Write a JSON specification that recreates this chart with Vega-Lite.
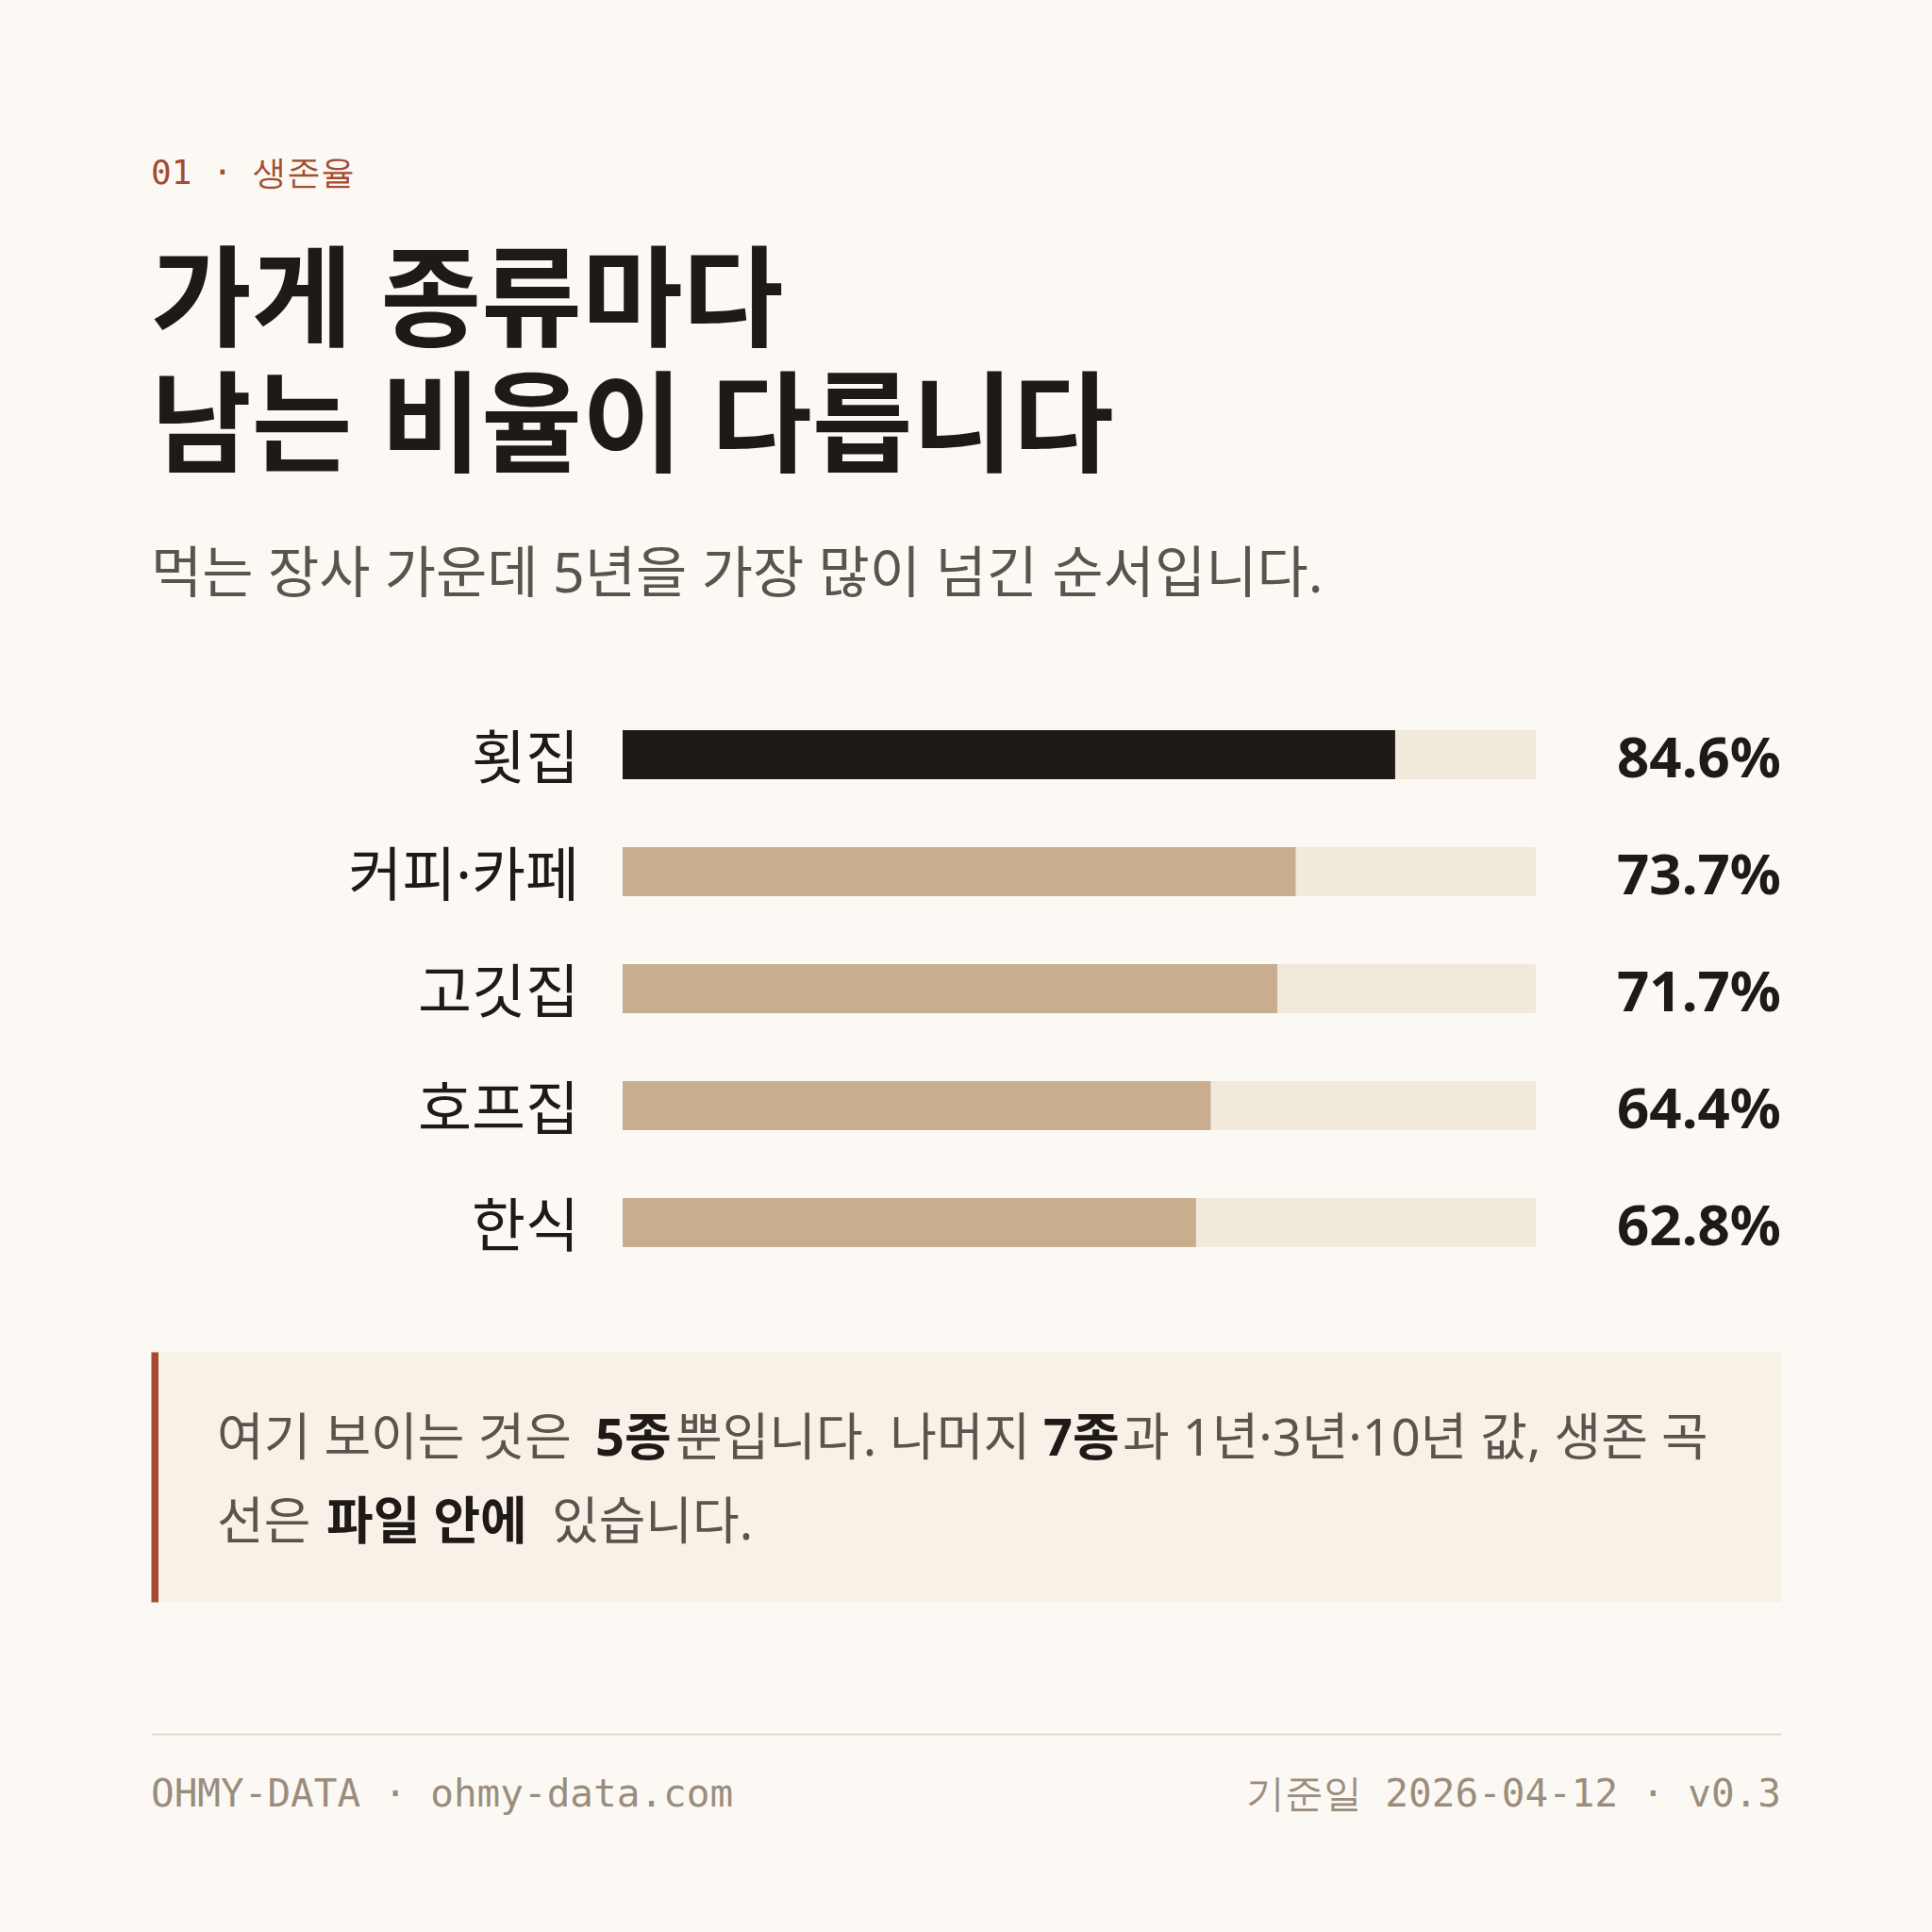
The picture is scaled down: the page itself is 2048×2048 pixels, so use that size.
{
  "$schema": "https://vega.github.io/schema/vega-lite/v6.json",
  "background": "#fcf9f4",
  "padding": {"left": 160, "right": 160, "top": 166, "bottom": 83},
  "config": {"view": {"stroke": null}, "axis": {"grid": false}},
  "title": {"text": "01 · 생존율", "anchor": "start", "font": "DejaVu Sans Mono", "fontSize": 36, "fontWeight": "normal", "color": "#a44b31", "offset": 62, "baseline": "top"},
  "datasets": {
    "rates": [
      {"category": "횟집", "rate": 0.846},
      {"category": "커피·카페", "rate": 0.737},
      {"category": "고깃집", "rate": 0.717},
      {"category": "호프집", "rate": 0.644},
      {"category": "한식", "rate": 0.628}
    ],
    "note": [
      {"line": 1, "seg": 1, "text": "여기 보이는 것은"},
      {"line": 1, "seg": 2, "text": "5종"},
      {"line": 1, "seg": 3, "text": "뿐입니다. 나머지"},
      {"line": 1, "seg": 4, "text": "7종"},
      {"line": 1, "seg": 5, "text": "과 1년·3년·10년 값, 생존 곡"},
      {"line": 2, "seg": 6, "text": "선은"},
      {"line": 2, "seg": 7, "text": "파일 안에"},
      {"line": 2, "seg": 8, "text": "있습니다."}
    ],
    "footer": [
      {"side": "left", "text": "OHMY-DATA · ohmy-data.com"},
      {"side": "right", "text": "기준일 2026-04-12 · v0.3"}
    ]
  },
  "spacing": 140,
  "vconcat": [
    {
      "spacing": 75,
      "vconcat": [
        {
          "width": 1728,
          "height": 620,
          "title": {
            "text": ["가게 종류마다", "남는 비율이 다릅니다"],
            "anchor": "start",
            "baseline": "top",
            "font": "Noto Sans, Noto Sans CJK KR",
            "fontSize": 116,
            "fontWeight": "bold",
            "color": "#1f1a17",
            "lineHeight": 133,
            "offset": 97,
            "subtitle": "먹는 장사 가운데 5년을 가장 많이 넘긴 순서입니다.",
            "subtitleFont": "Noto Sans, Noto Sans CJK KR",
            "subtitleFontSize": 59,
            "subtitleFontWeight": "normal",
            "subtitleColor": "#5b544c",
            "subtitlePadding": 66
          },
          "data": {"name": "rates"},
          "encoding": {
            "y": {"field": "category", "type": "nominal", "sort": null, "axis": null, "scale": {"paddingInner": 0.58, "paddingOuter": 0.29}}
          },
          "layer": [
            {
              "mark": {"type": "bar", "color": "#f1e9dc"},
              "encoding": {"x": {"datum": 1, "type": "quantitative", "scale": {"domain": [0, 1], "range": [500, 1468]}, "axis": null}}
            },
            {
              "mark": {"type": "bar"},
              "encoding": {
                "x": {"field": "rate", "type": "quantitative", "axis": null},
                "color": {"condition": {"test": "datum.category === '횟집'", "value": "#1f1a17"}, "value": "#c8ae8f"}
              }
            },
            {
              "mark": {"type": "text", "align": "right", "baseline": "middle", "dx": -46, "dy": 7, "font": "Noto Sans, Noto Sans CJK KR", "fontSize": 62, "color": "#1f1a17"},
              "encoding": {"x": {"datum": 0, "type": "quantitative", "axis": null}, "text": {"field": "category"}}
            },
            {
              "mark": {"type": "text", "align": "right", "baseline": "middle", "dx": 260, "dy": 6, "font": "Noto Sans", "fontSize": 60, "fontWeight": "bold", "color": "#1f1a17"},
              "encoding": {"x": {"datum": 1, "type": "quantitative", "axis": null}, "text": {"field": "rate", "type": "quantitative", "format": ".1%"}}
            }
          ]
        },
        {
          "width": 1728,
          "height": 265,
          "view": {"fill": "#f8f1e7", "stroke": null},
          "data": {"name": "note"},
          "encoding": {
            "y": {"field": "line", "type": "ordinal", "scale": {"type": "point", "padding": 1.156}, "axis": {"title": null, "labels": false, "ticks": false, "grid": false, "domainColor": "#a44b31", "domainWidth": 7.5, "offset": -3.75}}
          },
          "layer": [
            {"transform": [{"filter": "datum.seg === 1"}], "mark": {"type": "text", "x": 70, "align": "left", "baseline": "middle", "dy": 6, "font": "Noto Sans, Noto Sans CJK KR", "fontSize": 54, "color": "#5b544c"}, "encoding": {"text": {"field": "text"}}},
            {"transform": [{"filter": "datum.seg === 2"}], "mark": {"type": "text", "x": 471, "align": "left", "baseline": "middle", "dy": 6, "font": "Noto Sans, Noto Sans CJK KR", "fontSize": 54, "fontWeight": "bold", "color": "#1f1a17"}, "encoding": {"text": {"field": "text"}}},
            {"transform": [{"filter": "datum.seg === 3"}], "mark": {"type": "text", "x": 556, "align": "left", "baseline": "middle", "dy": 6, "font": "Noto Sans, Noto Sans CJK KR", "fontSize": 54, "color": "#5b544c"}, "encoding": {"text": {"field": "text"}}},
            {"transform": [{"filter": "datum.seg === 4"}], "mark": {"type": "text", "x": 946, "align": "left", "baseline": "middle", "dy": 6, "font": "Noto Sans, Noto Sans CJK KR", "fontSize": 54, "fontWeight": "bold", "color": "#1f1a17"}, "encoding": {"text": {"field": "text"}}},
            {"transform": [{"filter": "datum.seg === 5"}], "mark": {"type": "text", "x": 1030, "align": "left", "baseline": "middle", "dy": 6, "font": "Noto Sans, Noto Sans CJK KR", "fontSize": 54, "color": "#5b544c"}, "encoding": {"text": {"field": "text"}}},
            {"transform": [{"filter": "datum.seg === 6"}], "mark": {"type": "text", "x": 70, "align": "left", "baseline": "middle", "dy": 6, "font": "Noto Sans, Noto Sans CJK KR", "fontSize": 54, "color": "#5b544c"}, "encoding": {"text": {"field": "text"}}},
            {"transform": [{"filter": "datum.seg === 7"}], "mark": {"type": "text", "x": 186, "align": "left", "baseline": "middle", "dy": 6, "font": "Noto Sans, Noto Sans CJK KR", "fontSize": 54, "fontWeight": "bold", "color": "#1f1a17"}, "encoding": {"text": {"field": "text"}}},
            {"transform": [{"filter": "datum.seg === 8"}], "mark": {"type": "text", "x": 425, "align": "left", "baseline": "middle", "dy": 6, "font": "Noto Sans, Noto Sans CJK KR", "fontSize": 54, "color": "#5b544c"}, "encoding": {"text": {"field": "text"}}}
          ]
        }
      ]
    },
    {
      "width": 1728,
      "height": 130,
      "data": {"name": "footer"},
      "encoding": {
        "x": {"field": "side", "type": "nominal", "scale": {"type": "point", "padding": 0, "domain": ["left", "right"]}, "axis": {"orient": "top", "title": null, "labels": false, "ticks": false, "grid": false, "domainColor": "#e2d9cb", "domainWidth": 2}}
      },
      "layer": [
        {"transform": [{"filter": "datum.side === 'left'"}], "mark": {"type": "text", "align": "left", "baseline": "middle", "font": "DejaVu Sans Mono", "fontSize": 41, "color": "#9b8d7d"}, "encoding": {"text": {"field": "text"}}},
        {"transform": [{"filter": "datum.side === 'right'"}], "mark": {"type": "text", "align": "right", "baseline": "middle", "font": "DejaVu Sans Mono", "fontSize": 41, "color": "#9b8d7d"}, "encoding": {"text": {"field": "text"}}}
      ]
    }
  ]
}
